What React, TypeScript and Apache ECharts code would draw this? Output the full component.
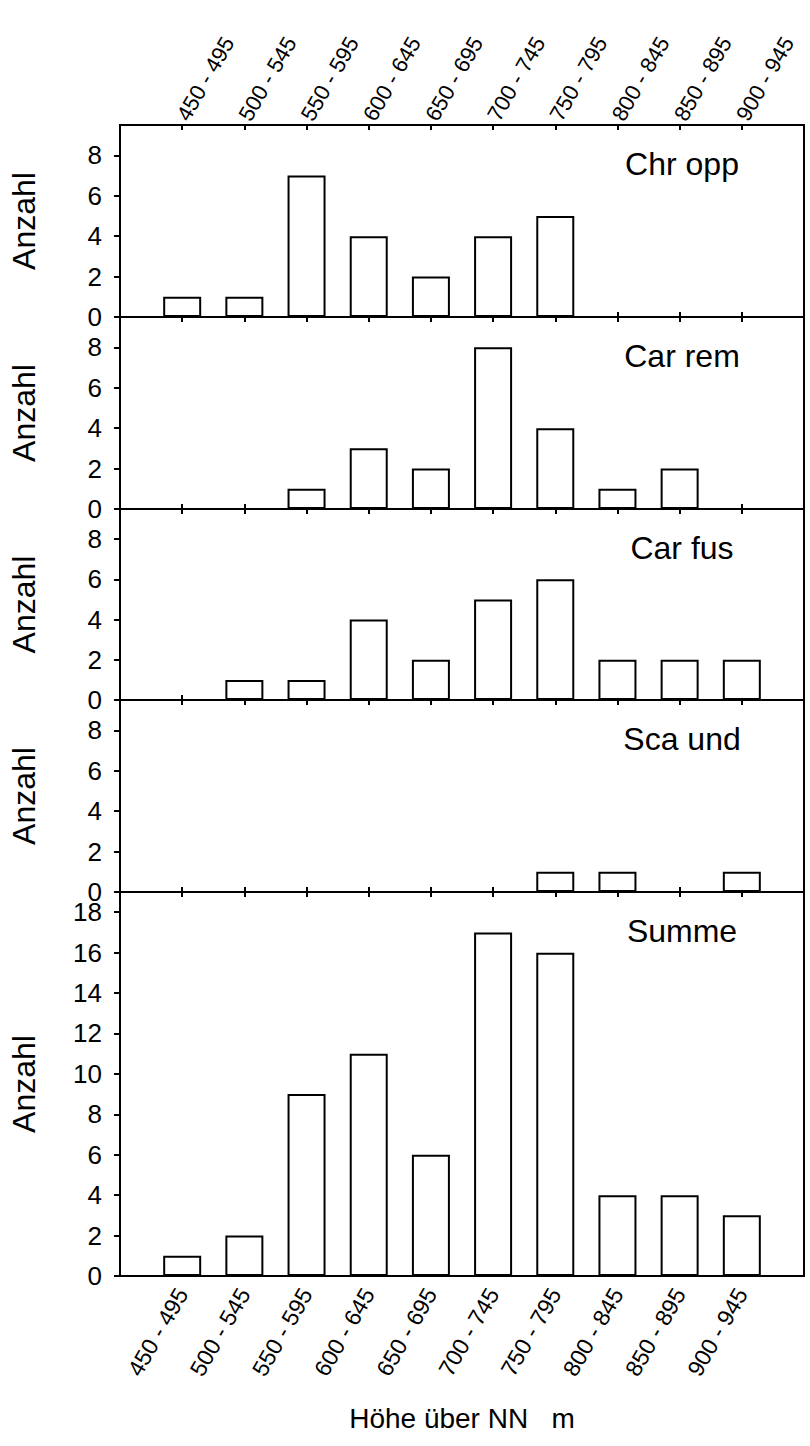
import React, { useEffect, useRef } from "react";
import * as echarts from "echarts";

const categories = ["450 - 495", "500 - 545", "550 - 595", "600 - 645", "650 - 695", "700 - 745", "750 - 795", "800 - 845", "850 - 895", "900 - 945"];
const chrOpp = [1, 1, 7, 4, 2, 4, 5, 0, 0, 0];
const carRem = [0, 0, 1, 3, 2, 8, 4, 1, 2, 0];
const carFus = [0, 1, 1, 4, 2, 5, 6, 2, 2, 2];
const scaUnd = [0, 0, 0, 0, 0, 0, 1, 1, 0, 1];
const summe = [1, 2, 9, 11, 6, 17, 16, 4, 4, 3];
const panelTitles = ["Chr opp", "Car rem", "Car fus", "Sca und", "Summe"];
const yTicksSmall = [0, 2, 4, 6, 8];
const yTicksSum = [0, 2, 4, 6, 8, 10, 12, 14, 16, 18];
const yMaxSmall = 9.5;
const yMaxSum = 19;
const xAxisTitle = "Höhe über NN   m";
const yAxisTitle = "Anzahl";

const FONT = "Liberation Sans, Arial, sans-serif";

export default function App() {
  const ref = useRef<HTMLDivElement>(null);
  useEffect(() => {
    if (!ref.current) return;
    const chart = echarts.init(ref.current, null, { renderer: "svg" });
    const seriesValues = [chrOpp, carRem, carFus, scaUnd, summe];
    const panels = [
      { top: 125, height: 192 },
      { top: 317, height: 192 },
      { top: 509, height: 191 },
      { top: 700, height: 192 },
      { top: 892, height: 384 },
    ];
    const gridLeft = 120;
    const gridWidth = 684;
    const axisCats = ["", ...categories, ""];
    const n = axisCats.length;
    const tickInterval = (idx: number) => idx > 0 && idx < n - 1;
    const black = "#000";

    const grid = panels.map((p) => ({
      left: gridLeft,
      width: gridWidth,
      top: p.top,
      height: p.height,
      show: true,
      borderColor: black,
      borderWidth: 2,
      backgroundColor: "transparent",
      containLabel: false,
    }));

    const xAxis: any[] = [];
    panels.forEach((p, i) => {
      xAxis.push({
        gridIndex: i,
        type: "category",
        position: "bottom",
        data: axisCats,
        boundaryGap: false,
        axisLine: { show: true, lineStyle: { color: black, width: 2 } },
        axisTick: { show: true, inside: true, length: 5, interval: tickInterval, lineStyle: { color: black, width: 2 } },
        axisLabel:
          i === panels.length - 1
            ? { show: true, interval: 0, rotate: 60, fontSize: 23, fontFamily: FONT, color: black, margin: 14 }
            : { show: false },
        splitLine: { show: false },
        name: i === panels.length - 1 ? xAxisTitle : "",
        nameLocation: "middle",
        nameGap: 128,
        nameTextStyle: { fontSize: 28, fontFamily: FONT, color: black },
      });
      xAxis.push({
        gridIndex: i,
        type: "category",
        position: "top",
        data: axisCats,
        boundaryGap: false,
        axisLine: { show: true, lineStyle: { color: black, width: 2 } },
        axisTick: { show: true, inside: true, length: 5, interval: tickInterval, lineStyle: { color: black, width: 2 } },
        axisLabel:
          i === 0
            ? { show: true, interval: 0, rotate: -60, fontSize: 22, fontFamily: FONT, color: black, margin: 6 }
            : { show: false },
        splitLine: { show: false },
      });
    });

    const yAxis = panels.map((p, i) => {
      const isSum = i === panels.length - 1;
      const ticks = isSum ? yTicksSum : yTicksSmall;
      return {
        gridIndex: i,
        type: "value",
        min: 0,
        max: isSum ? yMaxSum : yMaxSmall,
        interval: 2,
        axisLine: { show: true, lineStyle: { color: black, width: 2 } },
        axisTick: { show: true, inside: false, length: 6, customValues: ticks, lineStyle: { color: black, width: 2 } },
        axisLabel: {
          show: true,
          customValues: ticks,
          fontSize: 26,
          fontFamily: FONT,
          color: black,
          margin: 18,
          formatter: (v: number) => (ticks.indexOf(v) >= 0 ? String(v) : ""),
        },
        splitLine: { show: false },
        name: yAxisTitle,
        nameLocation: "middle",
        nameRotate: 90,
        nameGap: 80,
        nameTextStyle: { fontSize: 32, fontFamily: FONT, color: black },
      };
    });

    const series = seriesValues.map((vals, i) => ({
      type: "bar",
      xAxisIndex: i * 2,
      yAxisIndex: i,
      barWidth: 38,
      silent: true,
      data: ["-", ...vals.map((v) => (v === 0 ? "-" : v)), "-"],
      itemStyle: { color: "#fff", borderColor: black, borderWidth: 2 },
    }));

    const graphic = panels.map((p, i) => ({
      type: "text",
      x: 682,
      y: p.top + 39,
      style: {
        text: panelTitles[i],
        fontSize: 32,
        fontFamily: FONT,
        fill: black,
        align: "center",
        verticalAlign: "middle",
      },
    }));

    chart.setOption({
      animation: false,
      backgroundColor: "#fff",
      textStyle: { fontFamily: FONT },
      grid,
      xAxis,
      yAxis,
      series,
      graphic,
    });
    return () => chart.dispose();
  }, []);
  return <div ref={ref} style={{ position: "absolute", left: 0, top: 0, width: 810, height: 1446 }} />;
}
